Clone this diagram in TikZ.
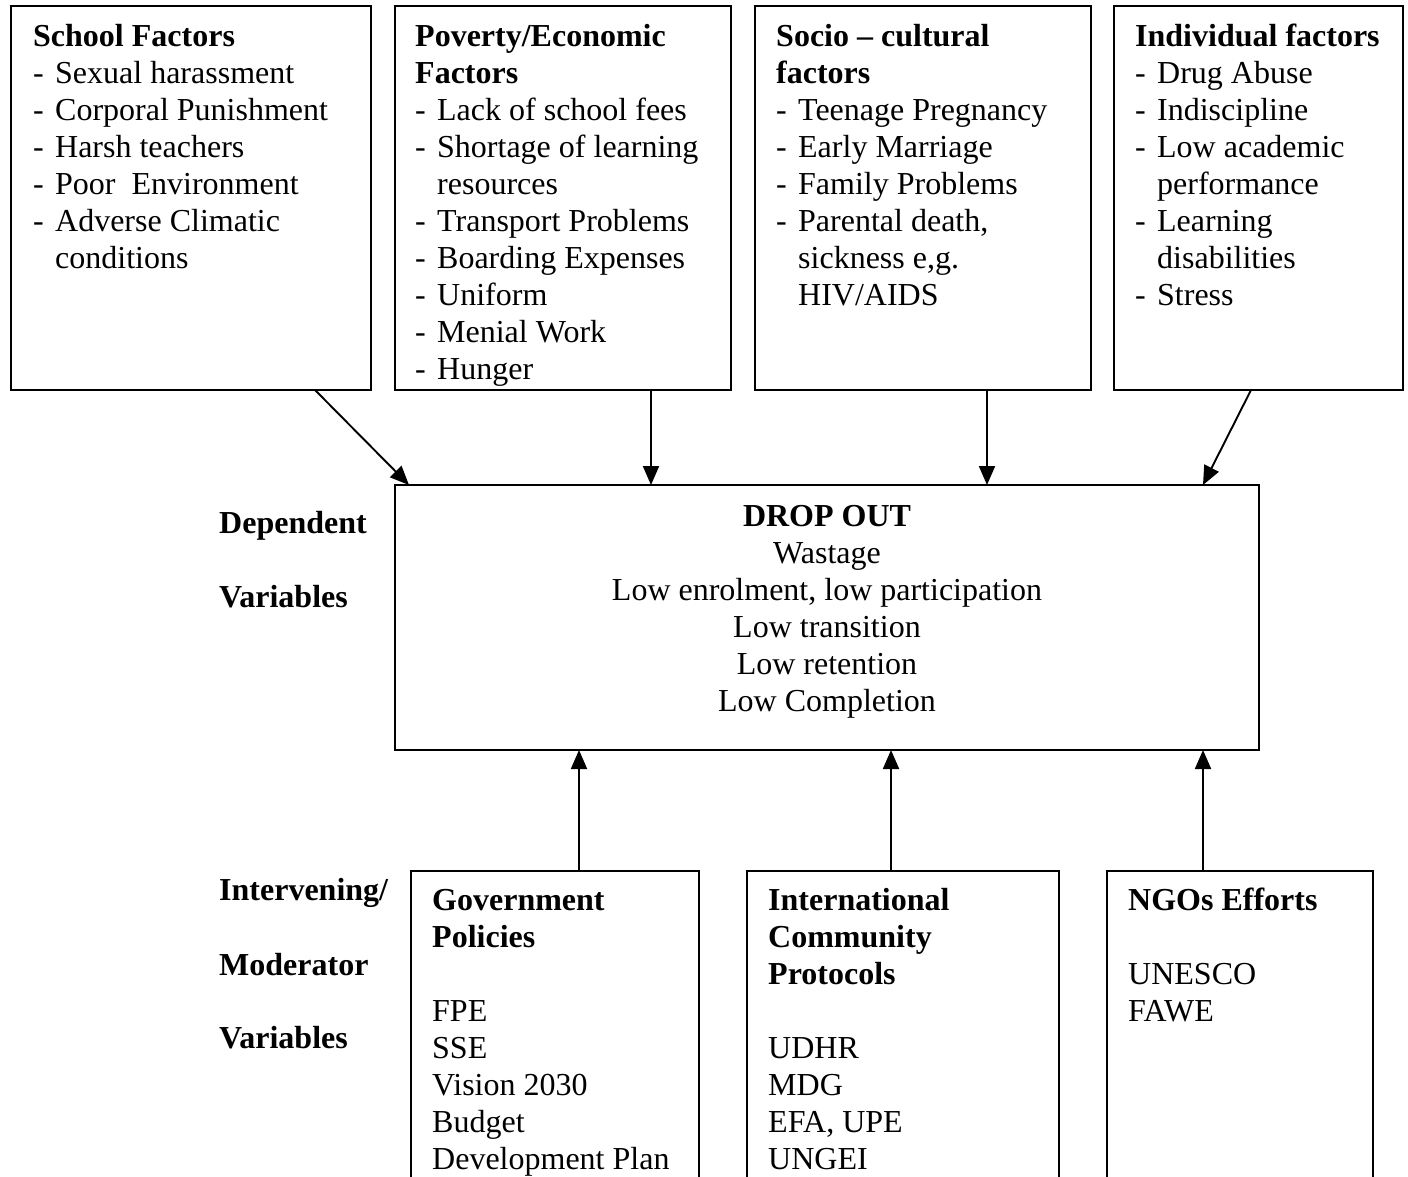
\documentclass[tikz,border=0pt]{standalone}
\usepackage{fontspec}
\setmainfont{Liberation Serif}
\usetikzlibrary{arrows.meta}

\newcommand{\itm}{\makebox[22pt][l]{-}}
\newcommand{\cont}{\hspace*{22pt}}

\begin{document}
\begin{tikzpicture}[x=1pt, y=-1pt,
  box/.style={draw, line width=1.9pt, rectangle, inner sep=0pt, outer sep=0pt, anchor=north west},
  txt/.style={anchor=north west, inner sep=0pt, align=left, font=\fontsize{32}{37}\selectfont},
  lbl/.style={anchor=base west, inner sep=0pt, font=\fontsize{32}{37}\selectfont\bfseries},
  flow/.style={line width=1.9pt, -{Triangle[length=19pt, width=16pt]}}]
\useasboundingbox (0,0) rectangle (1408,1177);

% independent variables
\node[box, minimum width=360pt, minimum height=384pt] (school) at (11,6) {};
\node[box, minimum width=336pt, minimum height=384pt] (poverty) at (395,6) {};
\node[box, minimum width=336pt, minimum height=384pt] (socio) at (755,6) {};
\node[box, minimum width=289pt, minimum height=384pt] (indiv) at (1114,6) {};

\node[txt] (school-txt) at (33,20.1) {\strut\textbf{School Factors}\\
  \itm Sexual harassment\\ \itm Corporal Punishment\\ \itm Harsh teachers\\
  \itm Poor\ \ Environment\\ \itm Adverse Climatic\\ \cont conditions};
\begin{scope}
  \clip (poverty.north west) rectangle ([yshift=5pt]poverty.south east);
  \node[txt] (poverty-txt) at (415,20.1) {\strut\textbf{Poverty/Economic}\\ \textbf{Factors}\\
    \itm Lack of school fees\\ \itm Shortage of learning\\ \cont resources\\
    \itm Transport Problems\\ \itm Boarding Expenses\\ \itm Uniform\\
    \itm Menial Work\\ \itm Hunger};
\end{scope}
\node[txt] (socio-txt) at (776,20.1) {\strut\textbf{Socio -- cultural}\\ \textbf{factors}\\
  \itm Teenage Pregnancy\\ \itm Early Marriage\\ \itm Family Problems\\
  \itm Parental death,\\ \cont sickness e,g.\\ \cont HIV/AIDS};
\node[txt] (indiv-txt) at (1135,20.1) {\strut\textbf{Individual factors}\\
  \itm Drug Abuse\\ \itm Indiscipline\\ \itm Low academic\\ \cont performance\\
  \itm Learning\\ \cont disabilities\\ \itm Stress};

% dependent variable
\node[box, minimum width=864pt, minimum height=265pt] (drop) at (395,485) {};
\node[txt, anchor=north, align=center] (drop-txt) at (827,500.1) {\strut\textbf{DROP OUT}\\
  Wastage\\ Low enrolment, low participation\\ Low transition\\ Low retention\\ Low Completion};

\node[lbl] (dep1) at (219,533) {Dependent};
\node[lbl] (dep2) at (219,607) {Variables};

% intervening variables
\node[box, minimum width=288pt, minimum height=330pt] (govt) at (411,871) {};
\node[box, minimum width=312pt, minimum height=330pt] (intl) at (747,871) {};
\node[box, minimum width=266pt, minimum height=330pt] (ngo) at (1107,871) {};

\node[txt] (govt-txt) at (432,884.1) {\strut\textbf{Government}\\ \textbf{Policies}\\ \mbox{}\\
  FPE\\ SSE\\ Vision 2030\\ Budget\\ Development Plan};
\node[txt] (intl-txt) at (768,884.1) {\strut\textbf{International}\\ \textbf{Community}\\
  \textbf{Protocols}\\ \mbox{}\\ UDHR\\ MDG\\ EFA, UPE\\ UNGEI};
\node[txt] (ngo-txt) at (1128,884.1) {\strut\textbf{NGOs Efforts}\\ \mbox{}\\ UNESCO\\ FAWE};

\node[lbl] (mod1) at (219,900) {Intervening/};
\node[lbl] (mod2) at (219,975) {Moderator};
\node[lbl] (mod3) at (219,1048) {Variables};

% arrows
\draw[flow] ([xshift=124pt]school.south) -- ([xshift=-418pt]drop.north);
\draw[flow] ([xshift=88pt]poverty.south) -- ([xshift=-176pt]drop.north);
\draw[flow] ([xshift=64pt]socio.south) -- ([xshift=160pt]drop.north);
\draw[flow] ([xshift=-7.5pt]indiv.south) -- ([xshift=376pt]drop.north);
\draw[flow] ([xshift=24pt]govt.north) -- ([xshift=-248pt]drop.south);
\draw[flow] ([xshift=-12pt]intl.north) -- ([xshift=64pt]drop.south);
\draw[flow] ([xshift=-37pt]ngo.north) -- ([xshift=376pt]drop.south);
\end{tikzpicture}
\end{document}
